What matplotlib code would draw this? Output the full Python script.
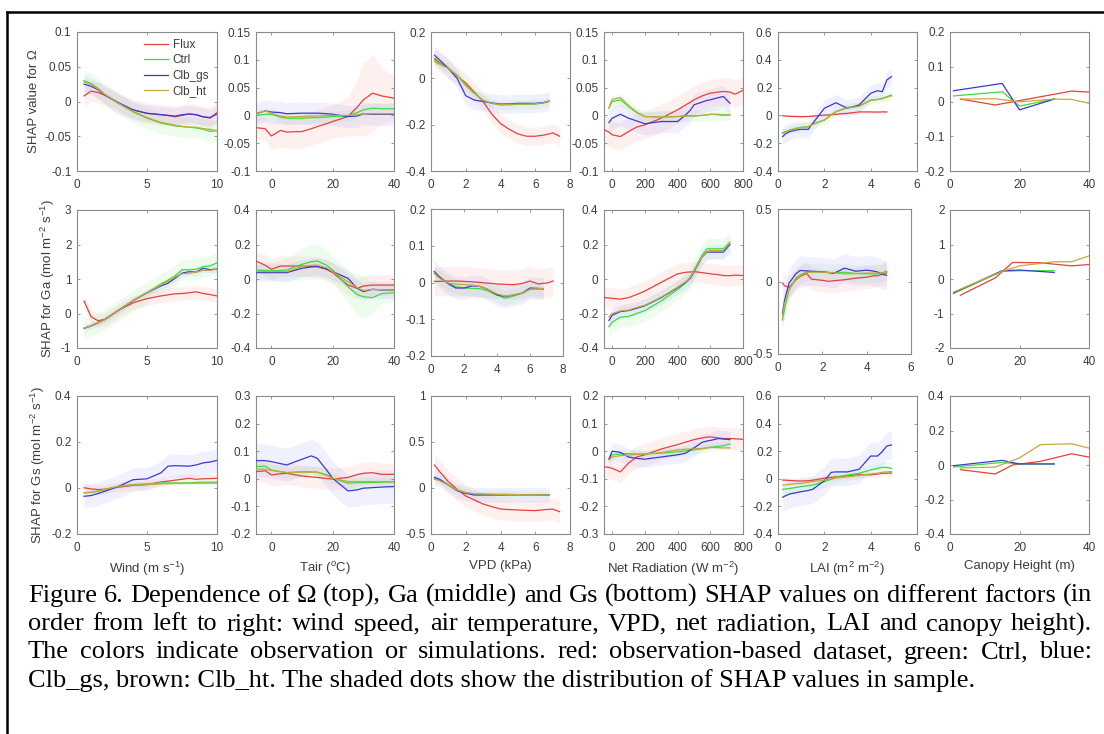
import numpy as np
import matplotlib

matplotlib.use('Agg')
import matplotlib.pyplot as plt
from matplotlib.lines import Line2D
from matplotlib.ticker import FuncFormatter

plt.rcParams['font.family'] = ['Liberation Sans', 'DejaVu Sans']
plt.rcParams['mathtext.fontset'] = 'custom'
plt.rcParams['mathtext.rm'] = 'Liberation Sans'
plt.rcParams['mathtext.it'] = 'Liberation Sans:italic'

# x positions of the binned means, one grid per driver
wind_x = [0.5, 1, 1.5, 2, 3, 4, 5, 6, 6.5, 7, 7.5, 8, 8.5, 9, 9.5, 10]
tair_x = [-5, -2, 0, 3, 5, 10, 13, 15, 18, 20, 25, 28, 30, 33, 36, 40]
vpd_x = [0.2, 0.5, 1, 1.5, 2, 2.5, 3, 3.5, 4, 4.5, 5, 5.5, 6, 6.5, 6.8, 7, 7.4]
rn_x = [-50, -20, 0, 50, 100, 150, 200, 300, 400, 450, 480, 500, 550, 580, 600, 650, 680, 720, 750, 800]
lai_x = [0.2, 0.3, 0.5, 0.8, 1, 1.3, 1.5, 2, 2.3, 2.5, 3, 3.5, 4, 4.3, 4.5, 4.7, 4.9]
hgt_x = [1, 3, 13, 15, 18, 20, 26, 30, 35, 40]

series_names = ['Flux', 'Ctrl', 'Clb_gs', 'Clb_ht']

# ---- SHAP for Omega ----
om_wind_flux = [0.008, 0.015, 0.013, 0.009, -0.003, -0.012, -0.017, -0.019, -0.020, -0.022, -0.020, -0.018, -0.019, -0.022, -0.024, -0.016]
om_wind_ctrl = [0.030, 0.026, 0.019, 0.010, -0.003, -0.015, -0.024, -0.031, -0.033, -0.035, -0.036, -0.037, -0.038, -0.040, -0.043, -0.042]
om_wind_clbgs = [0.025, 0.022, 0.017, 0.009, -0.002, -0.012, -0.017, -0.019, -0.020, -0.021, -0.019, -0.018, -0.019, -0.022, -0.023, -0.018]
om_wind_clbht = [0.028, 0.025, 0.018, 0.010, -0.003, -0.014, -0.023, -0.030, -0.032, -0.034, -0.036, -0.037, -0.037, -0.039, -0.040, -0.042]
om_wind_spread = [0.015, 0.015, 0.012, 0]

om_tair_flux = [-0.022, -0.024, -0.037, -0.027, -0.030, -0.029, -0.024, -0.020, -0.015, -0.011, -0.002, 0.015, 0.028, 0.040, 0.035, 0.031]
om_tair_ctrl = [0.000, 0.002, 0.002, -0.003, -0.005, -0.005, -0.004, -0.004, -0.003, -0.002, -0.001, 0.005, 0.010, 0.013, 0.012, 0.012]
om_tair_clbgs = [0.003, 0.008, 0.006, 0.005, 0.003, 0.004, 0.004, 0.004, 0.003, 0.002, -0.002, -0.001, 0.003, 0.002, 0.002, 0.002]
om_tair_clbht = [0.003, 0.008, 0.004, -0.001, -0.003, -0.002, -0.001, -0.001, 0.000, 0.000, 0.000, 0.001, 0.003, 0.003, 0.003, 0.003]
om_tair_flux_spread = [0.02, 0.02, 0.025, 0.03, 0.03, 0.03, 0.03, 0.03, 0.03, 0.03, 0.035, 0.05, 0.065, 0.07, 0.05, 0.04]
om_tair_spread = [om_tair_flux_spread, 0.01, 0.02, 0]

om_vpd_flux = [0.086, 0.068, 0.043, 0.010, -0.020, -0.060, -0.100, -0.155, -0.195, -0.220, -0.240, -0.250, -0.250, -0.245, -0.240, -0.235, -0.250]
om_vpd_ctrl = [0.079, 0.065, 0.043, 0.014, -0.029, -0.065, -0.094, -0.108, -0.115, -0.114, -0.112, -0.112, -0.111, -0.106, -0.100, None, None]
om_vpd_clbgs = [0.100, 0.079, 0.043, 0.000, -0.075, -0.094, -0.100, -0.106, -0.111, -0.110, -0.108, -0.108, -0.108, -0.104, -0.098, None, None]
om_vpd_clbht = [0.072, 0.060, 0.043, 0.012, -0.031, -0.066, -0.096, -0.108, -0.113, -0.112, -0.111, -0.111, -0.110, -0.105, -0.099, None, None]
om_vpd_spread = [0.04, 0.02, 0.04, 0]

om_rn_flux = [-0.026, -0.030, -0.035, -0.038, -0.029, -0.021, -0.017, -0.005, 0.010, 0.019, 0.024, 0.028, 0.035, 0.038, 0.040, 0.042, 0.043, 0.042, 0.038, 0.045]
om_rn_ctrl = [None, 0.013, 0.025, 0.028, 0.016, 0.005, -0.002, -0.003, -0.002, -0.001, -0.001, -0.001, 0.000, 0.001, 0.002, 0.002, 0.001, 0.001, None, None]
om_rn_clbgs = [None, -0.013, -0.005, 0.002, -0.005, -0.010, -0.015, -0.011, -0.011, 0.001, 0.010, 0.019, 0.024, 0.027, 0.028, 0.032, 0.034, 0.022, None, None]
om_rn_clbht = [None, 0.014, 0.029, 0.032, 0.018, 0.006, -0.002, -0.003, -0.002, -0.001, -0.001, -0.001, 0.000, 0.001, 0.002, 0.001, 0.000, 0.001, None, None]
om_rn_spread = [0.025, 0.01, 0.02, 0]

om_lai_flux = [-0.002, -0.004, -0.006, -0.008, -0.009, -0.008, -0.005, 0.002, 0.005, 0.008, 0.015, 0.025, 0.025, 0.024, 0.025, 0.025, None]
om_lai_ctrl = [-0.124, -0.118, -0.105, -0.092, -0.086, -0.081, -0.062, -0.033, 0.005, 0.027, 0.058, 0.067, 0.111, 0.115, 0.122, 0.135, 0.147]
om_lai_clbgs = [-0.153, -0.135, -0.117, -0.105, -0.100, -0.100, -0.057, 0.051, 0.075, 0.091, 0.051, 0.075, 0.159, 0.178, 0.170, 0.255, 0.279]
om_lai_clbht = [-0.130, -0.122, -0.108, -0.094, -0.088, -0.083, -0.065, -0.035, 0.003, 0.025, 0.055, 0.065, 0.108, 0.113, 0.120, 0.130, 0.140]
om_lai_spread = [0.01, 0.03, 0.06, 0]

om_hgt_flux = [None, 0.007, -0.010, None, -0.001, None, None, None, 0.030, 0.027]
om_hgt_ctrl = [0.016, None, None, 0.028, None, -0.013, None, 0.007, None, None]
om_hgt_clbgs = [0.031, None, None, 0.052, None, -0.024, None, 0.007, None, None]
om_hgt_clbht = [None, 0.007, 0.008, None, None, -0.001, None, 0.007, 0.006, -0.005]
om_hgt_spread = [0, 0, 0, 0]

# ---- SHAP for Ga ----
ga_wind_flux = [0.36, -0.09, -0.21, -0.17, 0.10, 0.31, 0.43, 0.51, 0.54, 0.57, 0.58, 0.60, 0.63, 0.58, 0.55, 0.51]
ga_wind_ctrl = [-0.43, -0.36, -0.27, -0.17, 0.10, 0.37, 0.60, 0.86, 0.97, 1.09, 1.27, 1.27, 1.28, 1.36, 1.38, 1.47]
ga_wind_clbgs = [-0.43, -0.36, -0.27, -0.17, 0.10, 0.37, 0.60, 0.80, 0.88, 1.02, 1.17, 1.21, 1.20, 1.31, 1.27, 1.29]
ga_wind_clbht = [-0.43, -0.36, -0.27, -0.17, 0.10, 0.37, 0.60, 0.83, 0.93, 1.06, 1.15, 1.17, 1.20, 1.25, 1.25, 1.29]
ga_wind_spread = [0.2, 0.3, 0.1, 0]

ga_tair_flux = [0.104, 0.080, 0.056, 0.075, 0.075, 0.075, 0.073, 0.072, 0.055, 0.037, -0.035, -0.054, -0.041, -0.035, -0.035, -0.035]
ga_tair_ctrl = [0.052, 0.050, 0.047, 0.050, 0.052, 0.085, 0.100, 0.104, 0.080, 0.052, -0.045, -0.090, -0.103, -0.108, -0.085, -0.079]
ga_tair_clbgs = [0.037, 0.037, 0.037, 0.037, 0.037, 0.062, 0.070, 0.072, 0.060, 0.043, 0.004, -0.054, -0.073, -0.060, -0.064, -0.064]
ga_tair_clbht = [0.043, 0.043, 0.043, 0.043, 0.043, 0.072, 0.080, 0.081, 0.065, 0.043, -0.016, -0.050, -0.067, -0.060, -0.062, -0.064]
ga_tair_ctrl_spread = [0.04, 0.05, 0.05, 0.06, 0.07, 0.09, 0.1, 0.1, 0.09, 0.08, 0.09, 0.12, 0.12, 0.09, 0.06, 0.05]
ga_tair_spread = [0.06, ga_tair_ctrl_spread, 0.05, 0]

ga_vpd_flux = [0.003, 0.003, 0.004, 0.004, 0.003, 0.002, 0.000, -0.002, -0.004, -0.005, -0.006, -0.003, 0.004, -0.004, -0.002, -0.002, 0.004]
ga_vpd_ctrl = [0.025, 0.013, -0.002, -0.011, -0.015, -0.016, -0.017, -0.024, -0.034, -0.043, -0.037, -0.030, -0.019, -0.018, -0.018, None, None]
ga_vpd_clbgs = [0.030, 0.016, -0.002, -0.015, -0.015, -0.009, -0.011, -0.020, -0.034, -0.038, -0.034, -0.029, -0.015, -0.016, -0.017, None, None]
ga_vpd_clbht = [0.025, 0.012, -0.001, -0.004, -0.006, -0.007, -0.011, -0.020, -0.031, -0.037, -0.034, -0.029, -0.018, -0.017, -0.016, None, None]
ga_vpd_spread = [0.04, 0.02, 0.03, 0]

ga_rn_flux = [-0.108, -0.110, -0.112, -0.117, -0.108, -0.090, -0.070, -0.019, 0.030, 0.039, 0.041, 0.043, 0.037, 0.033, 0.030, 0.025, 0.020, 0.019, 0.022, 0.020]
ga_rn_ctrl = [None, -0.277, -0.250, -0.221, -0.217, -0.200, -0.183, -0.127, -0.061, -0.023, 0.015, 0.050, 0.137, 0.175, 0.175, 0.175, 0.175, 0.213, None, None]
ga_rn_clbgs = [None, -0.240, -0.210, -0.189, -0.183, -0.170, -0.155, -0.108, -0.051, -0.019, 0.006, 0.040, 0.128, 0.156, 0.156, 0.156, 0.156, 0.200, None, None]
ga_rn_clbht = [None, -0.220, -0.200, -0.185, -0.180, -0.165, -0.152, -0.105, -0.047, -0.016, 0.010, 0.045, 0.130, 0.160, 0.165, 0.165, 0.165, 0.210, None, None]
ga_rn_spread = [0.06, 0.06, 0.04, 0]

ga_lai_flux = [-0.011, -0.030, -0.040, 0.010, 0.035, 0.055, 0.017, 0.008, 0.001, 0.005, 0.012, 0.023, 0.030, 0.039, 0.040, 0.050, 0.060]
ga_lai_ctrl = [-0.265, -0.185, -0.057, 0.023, 0.046, 0.067, 0.067, 0.067, 0.060, 0.060, 0.064, 0.055, 0.053, 0.053, 0.053, 0.060, 0.071]
ga_lai_clbgs = [-0.220, -0.126, -0.011, 0.053, 0.076, 0.073, 0.071, 0.067, 0.062, 0.055, 0.092, 0.071, 0.078, 0.072, 0.065, 0.050, 0.043]
ga_lai_clbht = [-0.235, -0.150, -0.057, 0.015, 0.040, 0.062, 0.065, 0.065, 0.062, 0.060, 0.053, 0.055, 0.058, 0.058, 0.058, 0.058, 0.060]
ga_lai_spread = [0.08, 0.06, 0.1, 0]

ga_hgt_flux = [None, -0.47, 0.03, None, 0.48, None, 0.47, None, 0.38, 0.42]
ga_hgt_ctrl = [-0.42, None, None, 0.22, None, 0.24, None, 0.24, None, None]
ga_hgt_clbgs = [-0.40, None, None, 0.24, None, 0.26, None, 0.19, None, None]
ga_hgt_clbht = [-0.38, None, None, 0.22, None, 0.38, None, 0.50, 0.50, 0.67]
ga_hgt_spread = [0, 0, 0, 0]

# ---- SHAP for Gs ----
gs_wind_flux = [0.001, -0.004, -0.007, -0.005, 0.004, 0.011, 0.015, 0.026, 0.030, 0.034, 0.038, 0.042, 0.038, 0.040, 0.041, 0.042]
gs_wind_ctrl = [-0.021, -0.019, -0.014, -0.008, 0.008, 0.015, 0.018, 0.022, 0.022, 0.022, 0.022, 0.022, 0.024, 0.025, 0.025, 0.025]
gs_wind_clbgs = [-0.036, -0.033, -0.024, -0.014, 0.008, 0.036, 0.040, 0.066, 0.095, 0.097, 0.096, 0.095, 0.100, 0.109, 0.113, 0.120]
gs_wind_clbht = [-0.021, -0.019, -0.013, -0.006, 0.008, 0.013, 0.015, 0.018, 0.019, 0.020, 0.020, 0.020, 0.021, 0.021, 0.021, 0.021]
gs_wind_spread = [0.02, 0.01, 0.05, 0]

gs_tair_flux = [0.026, 0.029, 0.014, 0.018, 0.020, 0.010, 0.007, 0.005, 0.001, -0.001, 0.005, 0.015, 0.020, 0.022, 0.016, 0.016]
gs_tair_ctrl = [0.044, 0.046, 0.032, 0.026, 0.022, 0.026, 0.025, 0.024, 0.015, 0.002, -0.016, -0.014, -0.014, -0.013, -0.012, -0.012]
gs_tair_clbgs = [0.066, 0.066, 0.062, 0.055, 0.050, 0.071, 0.083, 0.074, 0.032, 0.002, -0.044, -0.040, -0.034, -0.032, -0.030, -0.028]
gs_tair_clbht = [0.035, 0.035, 0.030, 0.025, 0.023, 0.024, 0.024, 0.024, 0.012, 0.002, -0.010, -0.010, -0.010, -0.010, -0.010, -0.010]
gs_tair_spread = [0.04, 0.02, 0.06, 0]

gs_vpd_flux = [0.250, 0.177, 0.068, -0.014, -0.087, -0.130, -0.174, -0.203, -0.228, -0.235, -0.239, -0.243, -0.246, -0.236, -0.232, -0.230, -0.257]
gs_vpd_ctrl = [0.105, 0.085, 0.033, -0.020, -0.050, -0.065, -0.069, -0.070, -0.070, -0.070, -0.072, -0.072, -0.072, -0.073, -0.075, None, None]
gs_vpd_clbgs = [0.116, 0.094, 0.033, -0.029, -0.058, -0.076, -0.076, -0.076, -0.076, -0.075, -0.074, -0.074, -0.074, -0.075, -0.076, None, None]
gs_vpd_clbht = [0.094, 0.080, 0.033, -0.022, -0.050, -0.063, -0.065, -0.068, -0.070, -0.071, -0.072, -0.073, -0.074, -0.075, -0.076, None, None]
gs_vpd_spread = [0.12, 0.04, 0.08, 0]

gs_rn_flux = [-0.056, -0.059, -0.062, -0.075, -0.043, -0.021, -0.013, 0.008, 0.024, 0.033, 0.038, 0.042, 0.048, 0.051, 0.052, 0.048, 0.046, 0.046, 0.045, 0.043]
gs_rn_ctrl = [None, -0.029, -0.013, -0.010, -0.009, -0.010, -0.010, -0.007, -0.002, 0.001, 0.003, 0.005, 0.009, 0.012, 0.014, 0.018, 0.020, 0.026, None, None]
gs_rn_clbgs = [None, -0.029, 0.000, -0.004, -0.021, -0.026, -0.029, -0.021, -0.013, -0.007, 0.005, 0.012, 0.032, 0.037, 0.039, 0.046, 0.044, 0.042, None, None]
gs_rn_clbht = [None, -0.031, -0.021, -0.016, -0.014, -0.012, -0.010, -0.005, 0.005, 0.007, 0.008, 0.008, 0.010, 0.012, 0.014, 0.013, 0.012, 0.012, None, None]
gs_rn_spread = [0.04, 0.015, 0.03, 0]

gs_lai_flux = [-0.009, -0.010, -0.012, -0.015, -0.016, -0.014, -0.010, 0.004, 0.010, 0.014, 0.021, 0.030, 0.028, 0.035, 0.040, 0.040, 0.042]
gs_lai_ctrl = [-0.076, -0.074, -0.070, -0.062, -0.057, -0.050, -0.045, -0.021, -0.003, 0.011, 0.028, 0.040, 0.064, 0.075, 0.083, 0.082, 0.076]
gs_lai_clbgs = [-0.134, -0.125, -0.110, -0.100, -0.093, -0.085, -0.076, -0.014, 0.047, 0.050, 0.050, 0.069, 0.165, 0.165, 0.197, 0.238, 0.245]
gs_lai_clbht = [-0.045, -0.044, -0.040, -0.035, -0.033, -0.025, -0.020, -0.009, 0.000, 0.005, 0.015, 0.025, 0.035, 0.040, 0.047, 0.050, 0.052]
gs_lai_spread = [0.02, 0.04, 0.1, 0]

gs_hgt_flux = [None, -0.027, -0.052, None, 0.000, None, 0.021, None, 0.065, 0.046]
gs_hgt_ctrl = [-0.012, None, None, 0.015, None, 0.006, None, 0.006, None, None]
gs_hgt_clbgs = [-0.004, None, None, 0.027, None, 0.006, None, 0.006, None, None]
gs_hgt_clbht = [None, -0.017, -0.012, None, None, 0.041, 0.118, None, 0.123, 0.098]
gs_hgt_spread = [0, 0, 0, 0]

line_colors = ['#e8403c', '#35e03a', '#3a3ad2', '#c8a83a']
cloud_colors = ['#ff8f8f', '#7fe87f', '#8f8fff', '#d8c070']

W, H = 1104, 734
fig = plt.figure(figsize=(W / 100, H / 100), dpi=100)

# driver columns: x grid, x limits, x ticks, label
columns = [
    (wind_x, (0, 10), [0, 5, 10], 'Wind (m s$^{-1}$)'),
    (tair_x, (-5, 40), [0, 20, 40], 'Tair ($^{o}$C)'),
    (vpd_x, (0, 8), [0, 2, 4, 6, 8], 'VPD (kPa)'),
    (rn_x, (-50, 800), [0, 200, 400, 600, 800], 'Net Radiation (W m$^{-2}$)'),
    (lai_x, (0, 6), [0, 2, 4, 6], 'LAI (m$^{2}$ m$^{-2}$)'),
    (hgt_x, (0, 40), [0, 20, 40], 'Canopy Height (m)'),
]

rows = [
    ('SHAP value for Ω', [
        (om_wind_flux, om_wind_ctrl, om_wind_clbgs, om_wind_clbht, om_wind_spread, (-0.1, 0.1, 5)),
        (om_tair_flux, om_tair_ctrl, om_tair_clbgs, om_tair_clbht, om_tair_spread, (-0.1, 0.15, 6)),
        (om_vpd_flux, om_vpd_ctrl, om_vpd_clbgs, om_vpd_clbht, om_vpd_spread, (-0.4, 0.2, 4)),
        (om_rn_flux, om_rn_ctrl, om_rn_clbgs, om_rn_clbht, om_rn_spread, (-0.1, 0.15, 6)),
        (om_lai_flux, om_lai_ctrl, om_lai_clbgs, om_lai_clbht, om_lai_spread, (-0.4, 0.6, 6)),
        (om_hgt_flux, om_hgt_ctrl, om_hgt_clbgs, om_hgt_clbht, om_hgt_spread, (-0.2, 0.2, 5)),
    ]),
    ('SHAP for Ga (mol m$^{-2}$ s$^{-1}$)', [
        (ga_wind_flux, ga_wind_ctrl, ga_wind_clbgs, ga_wind_clbht, ga_wind_spread, (-1, 3, 5)),
        (ga_tair_flux, ga_tair_ctrl, ga_tair_clbgs, ga_tair_clbht, ga_tair_spread, (-0.4, 0.4, 5)),
        (ga_vpd_flux, ga_vpd_ctrl, ga_vpd_clbgs, ga_vpd_clbht, ga_vpd_spread, (-0.2, 0.2, 5)),
        (ga_rn_flux, ga_rn_ctrl, ga_rn_clbgs, ga_rn_clbht, ga_rn_spread, (-0.4, 0.4, 5)),
        (ga_lai_flux, ga_lai_ctrl, ga_lai_clbgs, ga_lai_clbht, ga_lai_spread, (-0.5, 0.5, 3)),
        (ga_hgt_flux, ga_hgt_ctrl, ga_hgt_clbgs, ga_hgt_clbht, ga_hgt_spread, (-2, 2, 5)),
    ]),
    ('SHAP for Gs (mol m$^{-2}$ s$^{-1}$)', [
        (gs_wind_flux, gs_wind_ctrl, gs_wind_clbgs, gs_wind_clbht, gs_wind_spread, (-0.2, 0.4, 4)),
        (gs_tair_flux, gs_tair_ctrl, gs_tair_clbgs, gs_tair_clbht, gs_tair_spread, (-0.2, 0.3, 6)),
        (gs_vpd_flux, gs_vpd_ctrl, gs_vpd_clbgs, gs_vpd_clbht, gs_vpd_spread, (-0.5, 1, 4)),
        (gs_rn_flux, gs_rn_ctrl, gs_rn_clbgs, gs_rn_clbht, gs_rn_spread, (-0.3, 0.2, 6)),
        (gs_lai_flux, gs_lai_ctrl, gs_lai_clbgs, gs_lai_clbht, gs_lai_spread, (-0.4, 0.6, 6)),
        (gs_hgt_flux, gs_hgt_ctrl, gs_hgt_clbgs, gs_hgt_clbht, gs_hgt_spread, (-0.4, 0.4, 5)),
    ]),
]

# panel boxes in pixels (left, right, top, bottom)
col_px = [(77, 217), (256, 394), (431, 570), (604, 743), (778, 917), (950, 1089)]
row_px = [(32, 171), (210, 348), (396, 534)]
odd_boxes = {(1, 2): (431, 563, 209, 356), (1, 4): (778, 911, 209, 354)}

fmt = FuncFormatter(lambda v, p: '%g' % (round(v, 6) + 0.0))
grey_txt = '#3c3c3c'
grey_ax = '#8a8a8a'


def as_array(vals):
    return np.array([np.nan if v is None else v for v in vals], dtype=float)


for r, (ylabel, panels) in enumerate(rows):
    for c, panel in enumerate(panels):
        l, rr = col_px[c]
        t, b = row_px[r]
        if (r, c) in odd_boxes:
            l, rr, t, b = odd_boxes[(r, c)]
        ax = fig.add_axes([l / W, 1 - b / H, (rr - l) / W, (b - t) / H])
        xg, xlim, xticks, xlabel = columns[c]
        xg = np.array(xg, dtype=float)
        ys = panel[:4]
        spread = panel[4]
        ylo, yhi, nt = panel[5]

        # shaded clouds of individual SHAP values
        for k in range(4):
            y = as_array(ys[k])
            ok = ~np.isnan(y)
            s = np.broadcast_to(np.array(spread[k], dtype=float), y.shape)
            if np.any(s > 0):
                ax.fill_between(xg[ok], y[ok] - s[ok], y[ok] + s[ok],
                                color=cloud_colors[k], alpha=0.13, lw=0, zorder=1)
        for k in range(4):
            y = as_array(ys[k])
            ok = ~np.isnan(y)
            ax.plot(xg[ok], y[ok], color=line_colors[k], lw=0.9, zorder=3,
                    label=series_names[k])

        ax.set_xlim(*xlim)
        ax.set_ylim(ylo, yhi)
        ax.set_xticks(xticks)
        ax.set_yticks(np.linspace(ylo, yhi, nt))
        ax.xaxis.set_major_formatter(fmt)
        ax.yaxis.set_major_formatter(fmt)
        ax.tick_params(direction='in', length=2.5, width=0.6, color=grey_ax,
                       labelsize=8.5, labelcolor=grey_txt, top=True, right=True)
        ax.tick_params(axis='x', pad=6)
        ax.tick_params(axis='y', pad=4)
        for sp in ax.spines.values():
            sp.set_color(grey_ax)
            sp.set_linewidth(0.8)
        if c == 0:
            ax.set_ylabel(ylabel, fontsize=9.5, color=grey_txt, labelpad=3)
        if r == 2:
            ax.set_xlabel(xlabel, fontsize=9.5, color=grey_txt, labelpad=4)
        if r == 0 and c == 0:
            ax.legend(loc='upper left', bbox_to_anchor=(0.43, 1.0), frameon=False,
                      fontsize=8.5, handlelength=2.0, handletextpad=0.4,
                      labelspacing=0.28, borderaxespad=0.2, labelcolor=grey_txt)

# border of the figure box (left and top edges visible)
fig.add_artist(Line2D([7 / W, 7 / W], [0, 1 - 12 / H], color='black', lw=1.8))
fig.add_artist(Line2D([7 / W, 1], [1 - 12 / H, 1 - 12 / H], color='black', lw=1.8))

caption_lines = [
    'Figure 6. Dependence of Ω (top), Ga (middle) and Gs (bottom) SHAP values on different factors (in',
    'order from left to right: wind speed, air temperature, VPD, net radiation, LAI and canopy height).',
    'The colors indicate observation or simulations. red: observation-based dataset, green: Ctrl, blue:',
    'Clb_gs, brown: Clb_ht. The shaded dots show the distribution of SHAP values in sample.',
]
baselines = [602, 630.5, 658.5, 687]
cap_left, cap_right = 28, 1092
cap_font = dict(fontsize=19, family='Liberation Serif', color='black', va='baseline')

renderer = fig.canvas.get_renderer()
for i, line in enumerate(caption_lines):
    yb = 1 - baselines[i] / H
    if i == len(caption_lines) - 1:
        fig.text(cap_left / W, yb, line, **cap_font)
        continue
    # justified lines: spread the words over the full width
    words = line.split(' ')
    texts = [fig.text(0, yb, w, **cap_font) for w in words]
    widths = [tx.get_window_extent(renderer).width for tx in texts]
    gap = (cap_right - cap_left - sum(widths)) / (len(words) - 1)
    x = cap_left
    for tx, w in zip(texts, widths):
        tx.set_x(x / W)
        x += w + gap

fig.savefig('out.png', dpi=100)
